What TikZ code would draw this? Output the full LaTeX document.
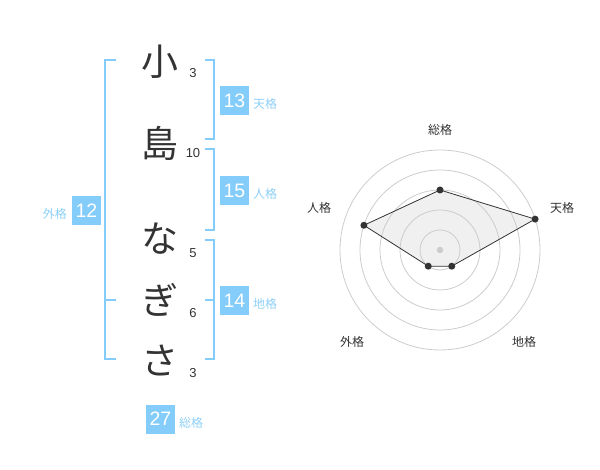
\documentclass[tikz,border=0pt]{standalone}
\usepackage{fontspec}
\setmainfont{Noto Sans CJK JP}
\newfontfamily\numfont{Liberation Sans}
\definecolor{bl}{HTML}{84CCFA}
\definecolor{lbl}{HTML}{8DD0F7}
\definecolor{ink}{HTML}{333333}
\definecolor{ring}{HTML}{CCCCCC}
\definecolor{area}{HTML}{F0F0F0}
\begin{document}
\begin{tikzpicture}[x=1pt,y=-1pt,
  kanji/.style={font=\fontsize{37}{40}\selectfont, text=ink, inner sep=0},
  stroke/.style={font=\numfont\fontsize{13}{14}\selectfont, text=ink, inner sep=0},
  vbox/.style={fill=bl, text=white, minimum width=29, minimum height=29, inner sep=0, font=\numfont\fontsize{19.5}{20}\selectfont},
  vlabel/.style={text=lbl, font=\fontsize{12}{13}\selectfont, inner sep=0},
  brk/.style={draw=bl, line width=1.6},
  axlabel/.style={text=ink, font=\fontsize{12}{13}\selectfont, inner sep=0},
  dot/.style={circle, fill=ink, inner sep=0, minimum size=7}
]
\useasboundingbox (0,0) rectangle (600,470);
% characters
\node[kanji] (c1) at (160,62) {小};
\node[kanji] (c2) at (160,143) {島};
\node[kanji] (c3) at (160,239) {な};
\node[kanji] (c4) at (160,300) {ぎ};
\node[kanji] (c5) at (160,361) {さ};
% stroke counts
\node[stroke] (s1) at (193,73) {3};
\node[stroke] (s2) at (193,153) {10};
\node[stroke] (s3) at (193,253) {5};
\node[stroke] (s4) at (193,313) {6};
\node[stroke] (s5) at (193,373) {3};
% brackets
\draw[brk] (116,60) -- (105,60) -- (105,359) -- (116,359);
\draw[brk] (105,300) -- (116,300);
\draw[brk] (205,60) -- (214,60) -- (214,139) -- (205,139);
\draw[brk] (205,149) -- (214,149) -- (214,230) -- (205,230);
\draw[brk] (205,240) -- (214,240) -- (214,359) -- (205,359);
\draw[brk] (205,300) -- (214,300);
% value boxes
\node[vbox] (ten) at (234.5,100.5) {13};
\node[vlabel, anchor=west] (tenl) at (253,104) {天格};
\node[vbox] (jin) at (234.5,190.5) {15};
\node[vlabel, anchor=west] (jinl) at (253,194) {人格};
\node[vbox] (chi) at (234.5,300.5) {14};
\node[vlabel, anchor=west] (chil) at (253,304) {地格};
\node[vbox] (gai) at (86.5,210.5) {12};
\node[vlabel, anchor=east] (gail) at (67,214) {外格};
\node[vbox] (sou) at (160.5,419) {27};
\node[vlabel, anchor=west] (soul) at (179,423) {総格};
% radar chart
\coordinate (O) at (440,250);
\path (O) ++(0,-60) coordinate (pSou);
\path (O) ++(95.1,-30.9) coordinate (pTen);
\path (O) ++(11.76,16.18) coordinate (pChi);
\path (O) ++(-11.76,16.18) coordinate (pGai);
\path (O) ++(-76.08,-24.72) coordinate (pJin);
\fill[area] (pSou) -- (pTen) -- (pChi) -- (pGai) -- (pJin) -- cycle;
\foreach \r in {20,40,60,80,100} \draw[ring, line width=0.8] (O) circle (\r);
\fill[ring] (O) circle (3.2);
\draw[ink, line width=0.8] (pSou) -- (pTen) -- (pChi) -- (pGai) -- (pJin) -- cycle;
\foreach \p in {pSou,pTen,pChi,pGai,pJin} \node[dot] at (\p) {};
\node[axlabel] (aS) at (440,130) {総格};
\node[axlabel] (aT) at (562,208) {天格};
\node[axlabel] (aJ) at (319,208) {人格};
\node[axlabel] (aG) at (352,342) {外格};
\node[axlabel] (aC) at (524,342) {地格};
\end{tikzpicture}
\end{document}
